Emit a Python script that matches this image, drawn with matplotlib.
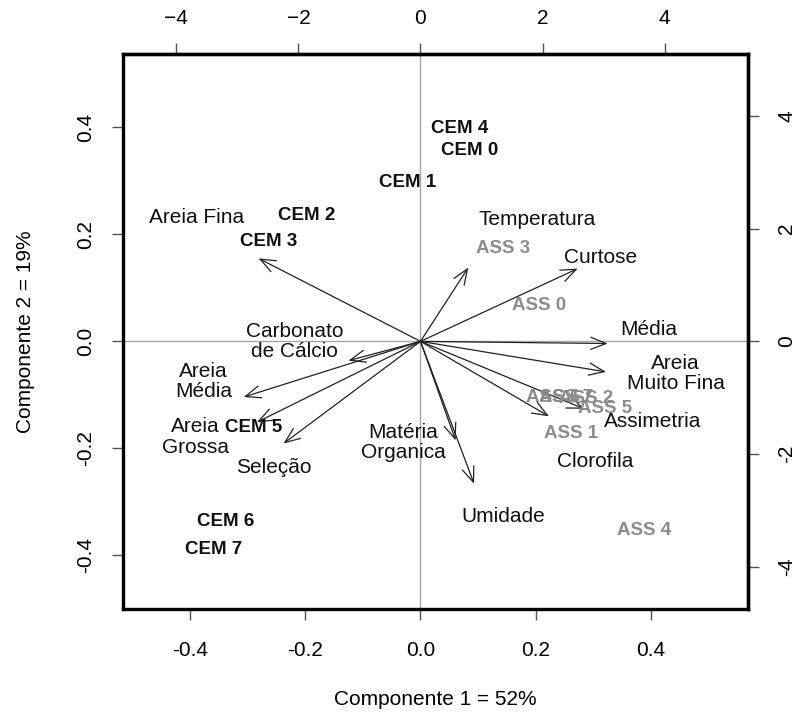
import numpy as np
import matplotlib
matplotlib.use('Agg')
import matplotlib.pyplot as plt

plt.rcParams['font.family'] = ['Liberation Sans', 'DejaVu Sans']

# variable loadings (arrow tips) and label positions, primary axes units
var_names = ['Temperatura', 'Curtose', 'Média', 'Areia\nMuito Fina', 'Assimetria',
             'Clorofila', 'Umidade', 'Matéria\nOrganica', 'Carbonato\nde Cálcio',
             'Areia\nMédia', 'Areia\nGrossa', 'Seleção', 'Areia Fina']
tip_x = [0.083, 0.273, 0.325, 0.322, 0.284, 0.223, 0.093, 0.061, -0.125,
         -0.307, -0.284, -0.238, -0.281]
tip_y = [0.138, 0.136, -0.004, -0.057, -0.126, -0.140, -0.266, -0.185, -0.036,
         -0.104, -0.151, -0.191, 0.155]
lab_x = [0.203, 0.313, 0.397, 0.443, 0.403, 0.304, 0.144, -0.030, -0.219,
         -0.377, -0.391, -0.254, -0.388]
lab_y = [0.228, 0.157, 0.022, -0.060, -0.150, -0.224, -0.327, -0.189, 0.000,
         -0.075, -0.179, -0.236, 0.232]

# sample scores
cem_names = ['CEM 0', 'CEM 1', 'CEM 2', 'CEM 3', 'CEM 4', 'CEM 5', 'CEM 6', 'CEM 7']
cem_x = [0.085, -0.023, -0.197, -0.264, 0.068, -0.289, -0.339, -0.360]
cem_y = [0.357, 0.297, 0.236, 0.187, 0.398, -0.161, -0.336, -0.389]
ass_names = ['ASS 0', 'ASS 1', 'ASS 2', 'ASS 3', 'ASS 4', 'ASS 5', 'ASS 6', 'ASS 7']
ass_x = [0.205, 0.261, 0.287, 0.144, 0.388, 0.320, 0.230, 0.252]
ass_y = [0.067, -0.172, -0.107, 0.174, -0.353, -0.125, -0.105, -0.105]

ratio_x = 9.44  # secondary axis scales
ratio_y = 9.5

fig = plt.figure(figsize=(8, 7.13), dpi=100)
ax = fig.add_axes([0.15375, 0.1459, 0.78125, 0.7784])
ax.set_xlim(-0.5165, 0.5686)
ax.set_ylim(-0.500, 0.537)

ax.axhline(0, color='#a8a8a8', lw=1, zorder=0)
ax.axvline(0, color='#a8a8a8', lw=1, zorder=0)

for tx, ty in zip(tip_x, tip_y):
    ax.annotate('', xy=(tx, ty), xytext=(0, 0),
                arrowprops=dict(arrowstyle='->,head_length=0.55,head_width=0.22',
                                color='#222222', lw=0.9, shrinkA=0, shrinkB=0,
                                mutation_scale=20))

for name, x, y in zip(var_names, lab_x, lab_y):
    ax.text(x, y, name, ha='center', va='center', fontsize=15, color='#111111',
            linespacing=1.1)

for name, x, y in zip(cem_names, cem_x, cem_y):
    ax.text(x, y, name, ha='center', va='center', fontsize=13.5,
            fontweight='bold', color='#111111')

for name, x, y in zip(ass_names, ass_x, ass_y):
    ax.text(x, y, name, ha='center', va='center', fontsize=13.5,
            fontweight='bold', color='#8c8c8c')

for s in ax.spines.values():
    s.set_linewidth(2.4)

ax.set_xticks([-0.4, -0.2, 0.0, 0.2, 0.4])
ax.set_yticks([-0.4, -0.2, 0.0, 0.2, 0.4])
ax.set_xticklabels(['-0.4', '-0.2', '0.0', '0.2', '0.4'])
ax.set_yticklabels(['-0.4', '-0.2', '0.0', '0.2', '0.4'], rotation=90, va='center')
ax.tick_params(direction='out', length=8, width=1, color='#555555', labelsize=15)
ax.tick_params(axis='x', pad=14.7)
ax.tick_params(axis='y', pad=11.8)

top = ax.secondary_xaxis('top', functions=(lambda v: v * ratio_x, lambda v: v / ratio_x))
top.set_xticks([-4, -2, 0, 2, 4])
top.tick_params(direction='out', length=8, width=1, color='#555555',
                labelsize=15, pad=11)
right = ax.secondary_yaxis('right', functions=(lambda v: v * ratio_y, lambda v: v / ratio_y))
right.set_yticks([-4, -2, 0, 2, 4])
right.set_yticklabels(['-4', '-2', '0', '2', '4'], rotation=90, va='center')
right.tick_params(direction='out', length=8, width=1, color='#555555',
                  labelsize=15, pad=13)
for sec in (top, right):
    for s in sec.spines.values():
        s.set_linewidth(2.4)

ax.set_xlabel('Componente 1 = 52%', fontsize=15, labelpad=22)
ax.set_ylabel('Componente 2 = 19%', fontsize=15, labelpad=30)

fig.savefig('out.png', dpi=100)
